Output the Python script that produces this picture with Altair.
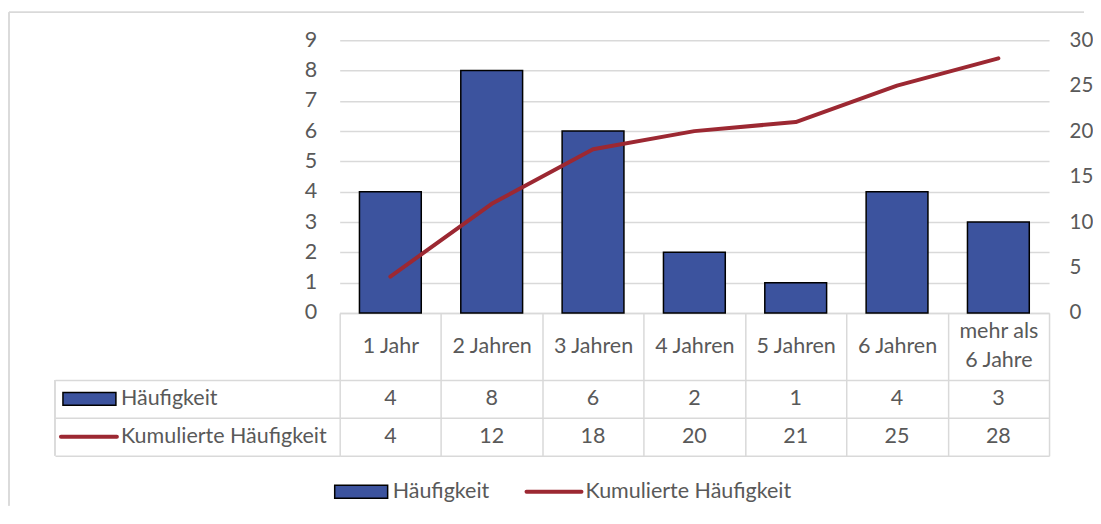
import altair as alt
import pandas as pd

# ---- data ----
categories = ["1 Jahr", "2 Jahren", "3 Jahren", "4 Jahren", "5 Jahren", "6 Jahren", "mehr als 6 Jahre"]
haeufigkeit = [4, 8, 6, 2, 1, 4, 3]
kumuliert = [4, 12, 18, 20, 21, 25, 28]
series = ["Häufigkeit", "Kumulierte Häufigkeit"]
left_ticks = list(range(0, 10))
right_ticks = [0, 5, 10, 15, 20, 25, 30]

BAR = "#3C539E"
LINE = "#9C2832"
GRID = "#D9D9D9"
TXT = "#595959"
FONT = "Lato"
FS = 21.5

df = pd.DataFrame({"cat": categories, "h": haeufigkeit, "k": kumuliert})
table = pd.DataFrame(
    [{"cat": c, "row": series[0], "v": h} for c, h in zip(categories, haeufigkeit)]
    + [{"cat": c, "row": series[1], "v": k} for c, k in zip(categories, kumuliert)]
)
rows_df = pd.DataFrame({"row": series})

x_enc = alt.X(
    "cat:N",
    sort=categories,
    scale=alt.Scale(domain=categories, paddingInner=0, paddingOuter=0),
    axis=alt.Axis(
        title=None, labelAngle=0, labelFont=FONT, labelFontSize=FS, labelColor=TXT,
        domainColor=GRID, domainWidth=1.5, tickColor=GRID, tickWidth=1.5,
        tickSize=143, tickBand="extent",
        labelPadding={"condition": {"test": "datum.value == 'mehr als 6 Jahre'", "value": -124},
                      "value": -109},
        labelBaseline="middle",
        labelLineHeight=29, labelOverlap=False,
        labelExpr="datum.label == 'mehr als 6 Jahre' ? ['mehr als', '6 Jahre'] : datum.label",
    ),
)

bars = alt.Chart(df).mark_bar(
    width=alt.RelativeBandSize(0.61), fill=BAR, stroke="black", strokeWidth=1.5
).encode(
    x=x_enc,
    y=alt.Y("h:Q", scale=alt.Scale(domain=[0, 9], nice=False),
            axis=alt.Axis(orient="left", values=left_ticks, title=None, grid=True,
                          gridColor=GRID, gridWidth=1.5, domain=False, ticks=False,
                          labelPadding=23, labelFont=FONT, labelFontSize=FS, labelColor=TXT)),
)

line = alt.Chart(df).mark_line(
    color=LINE, strokeWidth=4, interpolate="linear", strokeCap="round", strokeJoin="round"
).encode(
    x=x_enc,
    y=alt.Y("k:Q", scale=alt.Scale(domain=[0, 30], nice=False),
            axis=alt.Axis(orient="right", values=right_ticks, title=None, grid=False,
                          domain=False, ticks=False, labelPadding=20, labelFont=FONT,
                          labelFontSize=20.5, labelColor=TXT)),
)

y_row = alt.Y(
    "row:N", sort=series,
    scale=alt.Scale(domain=series, range=[340, 416], paddingInner=0, paddingOuter=0),
    axis=alt.Axis(orient="left", title=None, labels=False, domain=False, ticks=True,
                  tickBand="extent", tickSize=285, tickColor=GRID, tickWidth=1.5,
                  grid=True, gridColor=GRID, gridWidth=1.5),
)

cells = alt.Chart(table).mark_text(
    align="center", baseline="middle", font=FONT, fontSize=FS, color=TXT
).encode(x=x_enc, y=y_row, text="v:Q")

row_labels = alt.Chart(rows_df).mark_text(
    align="left", baseline="middle", font=FONT, fontSize=FS, color=TXT
).encode(x=alt.value(-219), y=y_row, text="row:N")

rect_path = "M-1,-0.245L1,-0.245L1,0.245L-1,0.245Z"
line_path = "M-1,0L1,0"

sym_bar_row = alt.Chart(pd.DataFrame({"row": [series[0]]})).mark_point(
    shape=rect_path, size=2809, filled=True, fill=BAR, stroke="black", strokeWidth=1.5, opacity=1
).encode(x=alt.value(-250.5), y=y_row)

sym_line_row = alt.Chart(pd.DataFrame({"row": [series[1]]})).mark_point(
    shape=line_path, size=3136, filled=False, stroke=LINE, strokeWidth=4, strokeCap="round", opacity=1
).encode(x=alt.value(-251), y=y_row)

left_border = alt.Chart(rows_df).mark_rule(color=GRID, strokeWidth=1.5).encode(
    x=alt.value(-285), y=alt.value(340), y2=alt.value(416))

# bottom legend
leg_bar = alt.Chart(pd.DataFrame({"s": [series[0]]})).mark_point(
    shape=rect_path, size=2809, filled=True, fill=BAR, stroke="black", strokeWidth=1.5, opacity=1
).encode(x=alt.value(21.5), y=alt.value(452))
leg_bar_t = alt.Chart(pd.DataFrame({"s": [series[0]]})).mark_text(
    align="left", baseline="middle", font=FONT, fontSize=FS, color=TXT
).encode(x=alt.value(53), y=alt.value(452), text="s:N")
leg_line = alt.Chart(pd.DataFrame({"s": [series[1]]})).mark_point(
    shape=line_path, size=3025, filled=False, stroke=LINE, strokeWidth=4, strokeCap="round", opacity=1
).encode(x=alt.value(214.5), y=alt.value(452))
leg_line_t = alt.Chart(pd.DataFrame({"s": [series[1]]})).mark_text(
    align="left", baseline="middle", font=FONT, fontSize=FS, color=TXT
).encode(x=alt.value(246), y=alt.value(452), text="s:N")

# chart frame
frame_left = alt.Chart(rows_df).mark_rule(color=GRID, strokeWidth=1.5).encode(
    x=alt.value(-331), y=alt.value(-28), y2=alt.value(466))
frame_top = alt.Chart(rows_df).mark_rule(color=GRID, strokeWidth=1.5).encode(
    x=alt.value(-331), x2=alt.value(745), y=alt.value(-28))

table_layer = alt.layer(
    cells, row_labels, sym_bar_row, sym_line_row, left_border,
    leg_bar, leg_bar_t, leg_line, leg_line_t, frame_left, frame_top
)

chart = alt.layer(bars, line, table_layer).resolve_scale(y="independent").properties(
    width=710, height=273, padding={"left": 0, "top": 3, "right": 0, "bottom": 0},
    background="white",
).configure_view(stroke=None)

chart.save("out.html", embed_options={"renderer": "svg", "actions": False})
